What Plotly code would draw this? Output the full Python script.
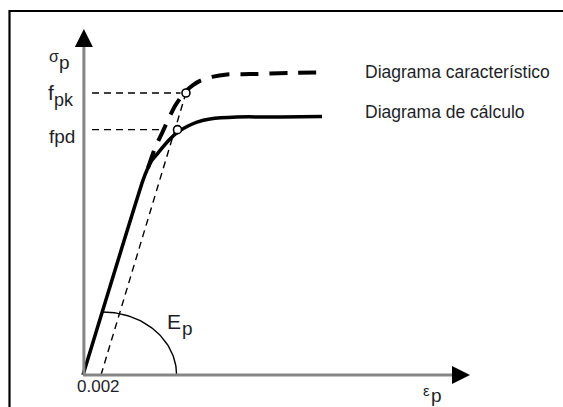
import numpy as np
import plotly.graph_objects as go

# Stress-strain diagram for prestressing steel (schematic).
# Strain in absolute units, stress normalised by fpk.
eps_design = [0.0, 0.00667, 0.00711, 0.00767, 0.00833, 0.00889, 0.00967, 0.01056,
              0.01167, 0.01267, 0.01411, 0.01711, 0.02189, 0.02656]
sig_design = [0.0, 0.691, 0.727, 0.762, 0.787, 0.809, 0.837, 0.862,
              0.883, 0.897, 0.908, 0.915, 0.915, 0.917]

eps_char = [0.00722, 0.0080, 0.00878, 0.00944, 0.01022, 0.01089, 0.01144, 0.01222,
            0.0130, 0.01433, 0.0160, 0.01856, 0.0230, 0.02633]
sig_char = [0.734, 0.805, 0.858, 0.904, 0.954, 0.986, 1.007, 1.028,
            1.043, 1.057, 1.066, 1.067, 1.071, 1.073]

eps_offset = 0.002          # residual strain of the offset line
fpk = 1.0
fpd = 0.87
eps_at_fpk = 0.01144
eps_at_fpd = 0.0105

label_char = "Diagrama característico"
label_design = "Diagrama de cálculo"

X_RANGE = [-0.0092222, 0.0533333]
Y_RANGE = [-0.113475, 1.329787]
PX_X = (X_RANGE[1] - X_RANGE[0]) / 563.0   # strain per pixel
PX_Y = (Y_RANGE[1] - Y_RANGE[0]) / 407.0   # stress per pixel

INK = "#1e1e28"
AXIS = "#858585"
FONT = "Liberation Sans, Arial, sans-serif"

fig = go.Figure()

# offset line parallel to the elastic branch (modulus Ep)
fig.add_trace(go.Scatter(x=[eps_offset, eps_at_fpk], y=[0, fpk], mode="lines",
                         line=dict(color="black", width=1.4, dash="7px,5px"),
                         hoverinfo="skip"))

# guides to fpk and fpd
fig.add_trace(go.Scatter(x=[0.001, eps_at_fpk - 0.0006], y=[fpk, fpk], mode="lines",
                         line=dict(color="black", width=1.3, dash="7px,5px"),
                         hoverinfo="skip"))
fig.add_trace(go.Scatter(x=[0.001, 0.0089], y=[fpd, fpd], mode="lines",
                         line=dict(color="black", width=1.3, dash="7px,5px"),
                         hoverinfo="skip"))

# design diagram
fig.add_trace(go.Scatter(x=eps_design, y=sig_design, mode="lines",
                         line=dict(color="black", width=3.5, shape="spline", smoothing=0.6),
                         hoverinfo="skip"))

# characteristic diagram
fig.add_trace(go.Scatter(x=eps_char, y=sig_char, mode="lines",
                         line=dict(color="black", width=4, dash="18px,11px",
                                   shape="spline", smoothing=0.6),
                         hoverinfo="skip"))

# quarter arc marking the modulus Ep
arc_cx, arc_rx, arc_ry = 0.0022, 0.0082, 0.2234
t = np.linspace(0, np.pi / 2, 60)
fig.add_trace(go.Scatter(x=arc_cx + arc_rx * np.cos(t), y=arc_ry * np.sin(t), mode="lines",
                         line=dict(color="black", width=1.4), hoverinfo="skip"))

# points at fpk and fpd
fig.add_trace(go.Scatter(x=[eps_at_fpk, eps_at_fpd], y=[fpk, fpd], mode="markers",
                         marker=dict(symbol="circle", size=8, color="white",
                                     line=dict(color="black", width=1.6)),
                         hoverinfo="skip"))

# axes with arrowheads
y_top = 1.163
x_end = 0.041
shapes = [
    dict(type="line", xref="x", yref="y", x0=0.0001, x1=0.0001, y0=0, y1=y_top,
         line=dict(color=AXIS, width=3)),
    dict(type="line", xref="x", yref="y", x0=0, x1=x_end, y0=0, y1=0,
         line=dict(color=AXIS, width=3)),
    dict(type="path", xref="x", yref="y", fillcolor="black", line=dict(width=0),
         path=f"M {0.0001 - 9 * PX_X} {y_top} L {0.0001 + 9 * PX_X} {y_top} "
              f"L 0.0001 {y_top + 18 * PX_Y} Z"),
    dict(type="path", xref="x", yref="y", fillcolor="black", line=dict(width=0),
         path=f"M {x_end} {-9 * PX_Y} L {x_end} {9 * PX_Y} L {x_end + 18 * PX_X} 0 Z"),
    # frame
    dict(type="rect", xref="paper", yref="paper", x0=9.5 / 563, x1=1.05,
         y0=-0.05, y1=1 - 11 / 407, line=dict(color="black", width=2.2)),
]


def txt(x, y, s, size, xanchor="center"):
    return dict(x=x, y=y, xref="x", yref="y", text=s, showarrow=False,
                xanchor=xanchor, yanchor="middle",
                font=dict(family=FONT, size=size, color=INK))


annotations = [
    txt(-0.00320, 1.128, "σ", 16),
    txt(-0.00210, 1.108, "p", 19),
    txt(-0.00355, 1.002, "f", 21),
    txt(-0.00215, 0.975, "pk", 18),
    txt(-0.00233, 0.846, "fpd", 19),
    txt(0.00167, -0.042, "0.002", 17),
    txt(0.01011, 0.19, "E", 21),
    txt(0.01156, 0.165, "p", 19),
    txt(0.03817, -0.055, "ε", 15),
    txt(0.03933, -0.072, "p", 19),
    txt(0.0311, 1.074, label_char, 17.5, xanchor="left"),
    txt(0.0311, 0.933, label_design, 17.5, xanchor="left"),
]

fig.update_layout(
    width=563, height=407,
    margin=dict(l=0, r=0, t=0, b=0),
    paper_bgcolor="white", plot_bgcolor="white",
    showlegend=False,
    xaxis=dict(range=X_RANGE, visible=False, fixedrange=True),
    yaxis=dict(range=Y_RANGE, visible=False, fixedrange=True),
    shapes=shapes,
    annotations=annotations,
)

fig.write_html("out.html")
